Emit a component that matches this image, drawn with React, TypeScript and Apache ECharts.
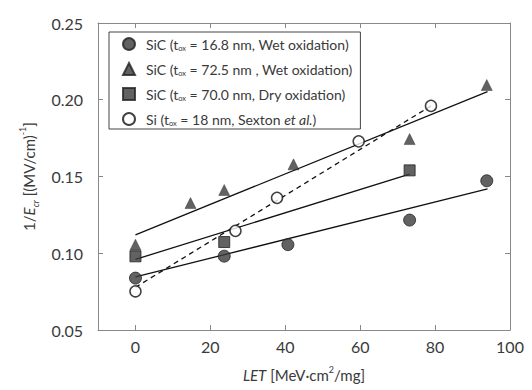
import React, { useEffect, useRef } from "react";
import * as echarts from "echarts";

const xTicks = [0, 20, 40, 60, 80, 100];
const seriesNames = [
  "SiC (t_ox = 16.8 nm, Wet oxidation)",
  "SiC (t_ox = 72.5 nm , Wet oxidation)",
  "SiC (t_ox = 70.0 nm, Dry oxidation)",
  "Si (t_ox = 18 nm, Sexton et al.)",
];
const legendRich = [
  "SiC (t{sub|ox} = 16.8 nm, Wet oxidation)",
  "SiC (t{sub|ox} = 72.5 nm , Wet oxidation)",
  "SiC (t{sub|ox} = 70.0 nm, Dry oxidation)",
  "Si (t{sub|ox} = 18 nm, Sexton {it|et al.})",
];

const sicWet168 = [
  [0, 0.0838],
  [23.7, 0.0981],
  [40.7, 0.1056],
  [73.2, 0.1216],
  [93.8, 0.1472],
];
const sicWet725 = [
  [0, 0.1056],
  [14.7, 0.1327],
  [23.7, 0.1412],
  [42.2, 0.1579],
  [73.2, 0.1744],
  [93.8, 0.2096],
];
const sicDry700 = [
  [0, 0.098],
  [23.7, 0.1073],
  [73.2, 0.154],
];
const siSexton = [
  [0, 0.0752],
  [26.7, 0.1146],
  [37.8, 0.1361],
  [59.6, 0.1729],
  [78.9, 0.196],
];

const fitWet168 = [
  [0, 0.0846],
  [94, 0.1419],
];
const fitWet725 = [
  [0, 0.112],
  [94, 0.2053],
];
const fitDry700 = [
  [0, 0.096],
  [73.2, 0.1515],
];
const fitSi = [
  [0, 0.0778],
  [78.9, 0.196],
];

export default function App() {
  const ref = useRef<HTMLDivElement>(null);
  useEffect(() => {
    const chart = echarts.init(ref.current!, null, { renderer: "svg" });
    const font = "Lato";
    const axisColor = "#888";
    const labelColor = "#3a3a3a";
    const markFill = "#3b3b3b";
    const common = {
      axisLine: { show: true, onZero: false, lineStyle: { color: axisColor, width: 1 } },
      splitLine: { show: false },
    };
    const fitLine = (data: number[][], dashed: boolean) => ({
      type: "line",
      data,
      symbol: "none",
      silent: true,
      lineStyle: { color: "#111", width: 1.3, type: dashed ? [5, 4] : "solid" },
      z: 1,
    });
    chart.setOption({
      animation: false,
      backgroundColor: "#fff",
      grid: { left: 98, right: 22, top: 23, bottom: 55 },
      legend: {
        data: seriesNames,
        orient: "vertical",
        left: 109,
        top: 32,
        padding: [4, 8, 2, 13],
        itemGap: 9,
        itemWidth: 12,
        itemHeight: 12,
        borderColor: "#444",
        borderWidth: 1,
        backgroundColor: "#fff",
        formatter: (n: string) => legendRich[seriesNames.indexOf(n)],
        textStyle: {
          fontFamily: font,
          fontSize: 14,
          color: labelColor,
          lineHeight: 16,
          padding: [0, 0, 0, 6],
          rich: {
            sub: { fontSize: 7.5, verticalAlign: "bottom", lineHeight: 16, fontFamily: font, color: labelColor },
            it: { fontStyle: "italic", fontSize: 14, lineHeight: 16, fontFamily: font, color: labelColor },
          },
        },
      },
      xAxis: [
        {
          type: "value",
          min: -10,
          max: 100,
          interval: 10,
          ...common,
          axisTick: { show: true, inside: true, length: 5, customValues: xTicks, lineStyle: { color: axisColor } },
          axisLabel: {
            customValues: xTicks,
            fontFamily: font,
            fontSize: 16,
            color: labelColor,
            margin: 8,
          },
          name: "{it|LET} [MeV·cm{sup|2}/mg]",
          nameLocation: "middle",
          nameGap: 35,
          nameTextStyle: {
            fontFamily: font,
            fontSize: 15,
            color: labelColor,
            lineHeight: 20,
            rich: {
              it: { fontStyle: "italic", fontSize: 15, fontFamily: font, color: labelColor, lineHeight: 20 },
              sup: { fontSize: 9, verticalAlign: "top", fontFamily: font, color: labelColor, lineHeight: 20 },
            },
          },
        },
        {
          type: "value",
          position: "top",
          min: -10,
          max: 100,
          interval: 10,
          ...common,
          axisTick: { show: true, inside: true, length: 5, customValues: xTicks, lineStyle: { color: axisColor } },
          axisLabel: { show: false },
        },
      ],
      yAxis: [
        {
          type: "value",
          min: 0.05,
          max: 0.25,
          interval: 0.05,
          ...common,
          axisTick: { show: true, inside: true, length: 5, lineStyle: { color: axisColor } },
          axisLabel: {
            fontFamily: font,
            fontSize: 16,
            color: labelColor,
            margin: 15,
            formatter: (v: number) => v.toFixed(2),
          },
          name: "1/{it|E}{sub|cr} [(MV/cm){sup|-1}]",
          nameLocation: "middle",
          nameGap: 57,
          nameTextStyle: {
            fontFamily: font,
            fontSize: 15,
            color: labelColor,
            lineHeight: 22,
            rich: {
              it: { fontStyle: "italic", fontSize: 15, fontFamily: font, color: labelColor, lineHeight: 22 },
              sub: { fontStyle: "italic", fontSize: 9, verticalAlign: "bottom", fontFamily: font, color: labelColor, lineHeight: 22 },
              sup: { fontSize: 9, verticalAlign: "top", fontFamily: font, color: labelColor, lineHeight: 22 },
            },
          },
        },
        {
          type: "value",
          position: "right",
          min: 0.05,
          max: 0.25,
          interval: 0.05,
          ...common,
          axisTick: { show: true, inside: true, length: 5, lineStyle: { color: axisColor } },
          axisLabel: { show: false },
        },
      ],
      series: [
        fitLine(fitWet168, false),
        fitLine(fitWet725, false),
        fitLine(fitDry700, false),
        fitLine(fitSi, true),
        {
          name: seriesNames[0],
          type: "scatter",
          data: sicWet168,
          symbol: "circle",
          symbolSize: 12,
          itemStyle: { color: markFill, borderColor: "#222", borderWidth: 1 },
          z: 3,
        },
        {
          name: seriesNames[1],
          type: "scatter",
          data: sicWet725,
          symbol: "triangle",
          symbolSize: 11,
          itemStyle: { color: markFill, borderColor: "#222", borderWidth: 0.5 },
          z: 3,
        },
        {
          name: seriesNames[2],
          type: "scatter",
          data: sicDry700,
          symbol: "rect",
          symbolSize: 11,
          itemStyle: { color: markFill, borderColor: "#222", borderWidth: 1 },
          z: 3,
        },
        {
          name: seriesNames[3],
          type: "scatter",
          data: siSexton,
          symbol: "circle",
          symbolSize: 11,
          itemStyle: { color: "#fff", borderColor: "#111", borderWidth: 1.5 },
          z: 3,
        },
      ],
    });
    return () => chart.dispose();
  }, []);
  return <div ref={ref} style={{ width: 532, height: 390, position: "absolute", left: 0, top: 0 }} />;
}
